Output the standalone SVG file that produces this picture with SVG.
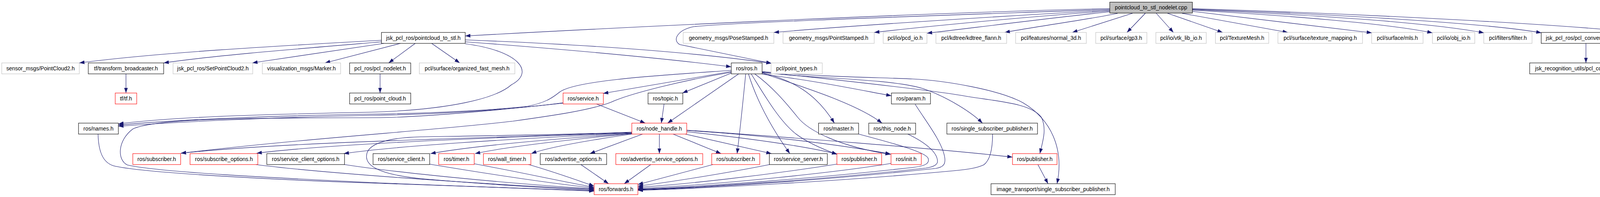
<svg xmlns="http://www.w3.org/2000/svg" width="4403" height="504" viewBox="0 0 4403 504">
<style>
.e{fill:none;stroke:#191970;stroke-width:1.1;marker-end:url(#ah)}
.nb rect{fill:#fff;stroke:#000;stroke-width:1.1}
.ng rect{fill:#fff;stroke:#bfbfbf;stroke-width:1.1}
.nr rect{fill:#fff;stroke:#ff0000;stroke-width:1.1}
.root rect{fill:#bfbfbf;stroke:#000;stroke-width:1.1}
text{font-family:"Liberation Sans",Arial,sans-serif;font-size:14px;text-anchor:middle;fill:#000}
</style>
<defs>
<marker id="ah" viewBox="0 0 13.3 9.4" refX="13.3" refY="4.7" markerWidth="13.3" markerHeight="9.4" markerUnits="userSpaceOnUse" orient="auto"><path d="M0,0 L13.3,4.7 L0,9.4 z" fill="#191970"/></marker>
</defs>
<rect width="4403" height="504" fill="#fff"/>
<g id="connectors">
<path class="e" d="M2841,22 C2300,34 1500,75 1191,92"/>
<path class="e" d="M2841,24 C2400,40 1900,56 1777,68 C1735,76 1720,102 1740,114 L1975,162"/>
<path class="e" d="M2841,26 C2500,45 2150,68 1981,83"/>
<path class="e" d="M2841,28 C2600,45 2350,70 2238,83"/>
<path class="e" d="M2841,30 C2700,45 2500,70 2373,85"/>
<path class="e" d="M2861,34 C2800,48 2650,68 2572,83"/>
<path class="e" d="M2899,34 L2745,83"/>
<path class="e" d="M2932,34 L2885,83"/>
<path class="e" d="M2960,34 L3004,83"/>
<path class="e" d="M2989,34 L3130,83"/>
<path class="e" d="M3026,34 L3297,83"/>
<path class="e" d="M3052,29 L3512,84"/>
<path class="e" d="M3052,26 C3300,40 3550,60 3667,84"/>
<path class="e" d="M3052,24.5 C3350,38 3650,56 3799,84"/>
<path class="e" d="M3052,23.5 C3400,36 3800,58 3946,84"/>
<path class="e" d="M3052,22 C3500,36 4000,62 4198,84"/>
<path class="e" d="M976.5,103 C700,118 400,135 203,161"/>
<path class="e" d="M976.5,107 C750,126 550,142 419,161"/>
<path class="e" d="M983,111 C850,130 750,145 646,161"/>
<path class="e" d="M1025,111 L832,161"/>
<path class="e" d="M1063,111 L995,161"/>
<path class="e" d="M1105,111 L1177,161"/>
<path class="e" d="M1191,107 C1500,130 1750,155 1872,171"/>
<path class="e" d="M1191,102 C1450,112 1750,130 1975,162"/>
<path class="e" d="M1191,112 C1330,130 1370,185 1309,217 C1270,252 1150,281 950,287 C700,292 450,298 303,317"/>
<path class="e" d="M973,189 L973,238"/>
<path class="e" d="M322.5,189 L322.5,238"/>
<path class="e" d="M4060,111 L4060,161"/>
<path class="e" d="M1872,183 L1544,239"/>
<path class="e" d="M1872,187 L1747,238"/>
<path class="e" d="M1891,189 L1709,315"/>
<path class="e" d="M1909,189 C1902,260 1895,330 1887,393"/>
<path class="e" d="M1916,189 C1935,250 1970,320 2022,393"/>
<path class="e" d="M1923,189 C1955,240 1995,310 2038,343 C2070,367 2110,383 2143,395"/>
<path class="e" d="M1932,189 C1975,220 2010,260 2042,300 C2070,335 2150,375 2280,395"/>
<path class="e" d="M1951,186 C2030,205 2090,240 2136,315"/>
<path class="e" d="M1951,187 C2080,230 2200,270 2258,315"/>
<path class="e" d="M1951,190 C2080,205 2200,230 2282,245"/>
<path class="e" d="M1951,185 C2050,200 2280,200 2364,227 C2430,250 2490,290 2515,315"/>
<path class="e" d="M1951,184 C2150,205 2400,232 2478,247 C2560,260 2640,265 2666,300 C2680,330 2670,360 2662,393"/>
<path class="e" d="M1951,183 C2100,197 2250,198 2336,202 C2420,206 2560,230 2619,263 C2690,305 2725,380 2706,470"/>
<path class="e" d="M1872,185 C1750,205 1610,240 1563,262 C1510,282 1420,295 1313,310 C1100,335 800,352 463,392"/>
<path class="e" d="M1872,180 C1700,192 1470,205 1432,236 C1412,252 1395,263 1350,272 C1200,288 1000,291 950,292 C700,296 450,306 303,320"/>
<path class="e" d="M1617,339 C1200,355 750,362 463,392"/>
<path class="e" d="M1617,340 C1250,352 850,368 657,392"/>
<path class="e" d="M1617,341 C1300,355 1000,375 880,393"/>
<path class="e" d="M1617,342 C1400,356 1200,375 1102,393"/>
<path class="e" d="M1617,342 C1450,358 1300,375 1216,393"/>
<path class="e" d="M1617,343 C1500,360 1400,378 1360,393"/>
<path class="e" d="M1645,343 L1510,393"/>
<path class="e" d="M1688,343 L1688,393"/>
<path class="e" d="M1723,343 L1846,393"/>
<path class="e" d="M1754,343 L1975,393"/>
<path class="e" d="M1758,337 C1900,352 2050,372 2143,394"/>
<path class="e" d="M1758,334 C1950,345 2150,370 2280,394"/>
<path class="e" d="M1758,333 C2000,350 2400,380 2592,402"/>
<path class="e" d="M1617,338 C1450,345 1200,348 1077,350 C1000,352 950,365 940,390 C930,420 960,445 1077,457 C1250,472 1420,482 1521,486"/>
<path class="e" d="M1527,266 L1652,315"/>
<path class="e" d="M1700,266 L1693,315"/>
<path class="e" d="M1441,263 C1300,282 1100,293 950,295 C700,300 450,312 303,323"/>
<path class="e" d="M1441,264 C1200,290 1050,300 972,301 C700,302 400,300 340,330 C300,360 300,410 326,422 C400,440 700,455 972,468 C1200,478 1400,485 1521,489"/>
<path class="e" d="M251,343 C252,385 262,415 290,424 C360,442 700,460 972,469 C1200,477 1400,484 1521,488"/>
<path class="e" d="M655,421 C800,440 1200,470 1521,484"/>
<path class="e" d="M876,420 C1000,440 1300,470 1521,483"/>
<path class="e" d="M1100,420 C1250,445 1400,468 1521,481"/>
<path class="e" d="M1214,419 C1330,440 1440,465 1521,479"/>
<path class="e" d="M1350,420 C1420,440 1480,462 1521,476"/>
<path class="e" d="M1487,421 L1558,470"/>
<path class="e" d="M1666,421 L1598,470"/>
<path class="e" d="M1825,421 L1633,472"/>
<path class="e" d="M1970,421 C1850,445 1700,468 1633,476"/>
<path class="e" d="M2142,420 C1950,450 1750,472 1633,479"/>
<path class="e" d="M2281,418 C2150,440 1850,472 1633,482"/>
<path class="e" d="M2198,343 C2300,370 2370,390 2376,405 C2380,418 2370,424 2340,428 C2100,455 1800,478 1633,484"/>
<path class="e" d="M2324,343 C2370,365 2400,390 2400,413 C2400,422 2390,427 2370,430 C2100,460 1800,480 1633,485"/>
<path class="e" d="M2343,267 C2370,310 2410,360 2418,400 C2422,420 2415,428 2395,431 C2100,462 1800,481 1633,486"/>
<path class="e" d="M2541,343 C2541,380 2535,410 2518,422 C2500,430 2480,433 2440,437 C2150,464 1800,482 1633,487"/>
<path class="e" d="M2657,421 L2683,470"/>
</g>
<g id="n_root" class="root"><rect x="2841" y="5.5" width="211.5" height="28"/><text x="2946.75" y="24">pointcloud_to_stl_nodelet.cpp</text></g>
<g id="n_p2s" class="nb"><rect x="976.5" y="83" width="214.5" height="28"/><text x="1083.75" y="101.5">jsk_pcl_ros/pointcloud_to_stl.h</text></g>
<g id="n_pose" class="ng"><rect x="1749" y="83" width="232" height="28"/><text x="1865" y="101.5">geometry_msgs/PoseStamped.h</text></g>
<g id="n_point" class="ng"><rect x="2004.5" y="83" width="233.5" height="28"/><text x="2121.25" y="101.5">geometry_msgs/PointStamped.h</text></g>
<g id="n_pcdio" class="ng"><rect x="2261" y="83" width="112" height="28"/><text x="2317" y="101.5">pcl/io/pcd_io.h</text></g>
<g id="n_kdtree" class="ng"><rect x="2396" y="83" width="181" height="28"/><text x="2486.5" y="101.5">pcl/kdtree/kdtree_flann.h</text></g>
<g id="n_normal" class="ng"><rect x="2600" y="83" width="181" height="28"/><text x="2690.5" y="101.5">pcl/features/normal_3d.h</text></g>
<g id="n_gp3" class="ng"><rect x="2805" y="83" width="131" height="28"/><text x="2870.5" y="101.5">pcl/surface/gp3.h</text></g>
<g id="n_vtk" class="ng"><rect x="2959" y="83" width="129" height="28"/><text x="3023.5" y="101.5">pcl/io/vtk_lib_io.h</text></g>
<g id="n_texmesh" class="ng"><rect x="3111.5" y="83" width="136.5" height="28"/><text x="3179.75" y="101.5">pcl/TextureMesh.h</text></g>
<g id="n_texmap" class="ng"><rect x="3271.5" y="83" width="216.5" height="28"/><text x="3379.75" y="101.5">pcl/surface/texture_mapping.h</text></g>
<g id="n_mls" class="ng"><rect x="3511.5" y="83" width="131.5" height="28"/><text x="3577.25" y="101.5">pcl/surface/mls.h</text></g>
<g id="n_obj" class="ng"><rect x="3667" y="83" width="108.5" height="28"/><text x="3721.25" y="101.5">pcl/io/obj_io.h</text></g>
<g id="n_filter" class="ng"><rect x="3798.5" y="83" width="123.5" height="28"/><text x="3860.25" y="101.5">pcl/filters/filter.h</text></g>
<g id="n_pclconv" class="nb"><rect x="3945.5" y="83" width="228" height="28"/><text x="4059.5" y="101.5">jsk_pcl_ros/pcl_conversion_util.h</text></g>
<g id="n_plugin" class="nb"><rect x="4198" y="83" width="200" height="28"/><text x="4298" y="101.5">pluginlib/class_list_macros.h</text></g>
<g id="n_sensor" class="ng"><rect x="4.5" y="161" width="198.5" height="28"/><text x="103.75" y="179.5">sensor_msgs/PointCloud2.h</text></g>
<g id="n_tfbc" class="nb"><rect x="226" y="161" width="193" height="28"/><text x="322.5" y="179.5">tf/transform_broadcaster.h</text></g>
<g id="n_setpc2" class="ng"><rect x="443" y="161" width="204" height="28"/><text x="545" y="179.5">jsk_pcl_ros/SetPointCloud2.h</text></g>
<g id="n_marker" class="ng"><rect x="671.5" y="161" width="200.5" height="28"/><text x="771.75" y="179.5">visualization_msgs/Marker.h</text></g>
<g id="n_pclnodelet" class="nb"><rect x="895" y="161" width="156.5" height="28"/><text x="973.25" y="179.5">pcl_ros/pcl_nodelet.h</text></g>
<g id="n_ofm" class="ng"><rect x="1073.5" y="161" width="244.5" height="28"/><text x="1195.75" y="179.5">pcl/surface/organized_fast_mesh.h</text></g>
<g id="n_ros" class="nb"><rect x="1872" y="161" width="79" height="28"/><text x="1911.5" y="179.5">ros/ros.h</text></g>
<g id="n_pt" class="ng"><rect x="1974" y="161" width="131" height="28"/><text x="2039.5" y="179.5">pcl/point_types.h</text></g>
<g id="n_jru" class="nb"><rect x="3916" y="161" width="288" height="28"/><text x="4060" y="179.5">jsk_recognition_utils/pcl_conversion_util.h</text></g>
<g id="n_tf" class="nr"><rect x="295" y="238" width="55" height="28"/><text x="322.5" y="256.5">tf/tf.h</text></g>
<g id="n_pc" class="nb"><rect x="895" y="238" width="156.5" height="28"/><text x="973.25" y="256.5">pcl_ros/point_cloud.h</text></g>
<g id="n_service" class="nr"><rect x="1441.5" y="238" width="103" height="28"/><text x="1493" y="256.5">ros/service.h</text></g>
<g id="n_topic" class="nb"><rect x="1659" y="238" width="89" height="28"/><text x="1703.5" y="256.5">ros/topic.h</text></g>
<g id="n_param" class="nb"><rect x="2282" y="238" width="100" height="28"/><text x="2332" y="256.5">ros/param.h</text></g>
<g id="n_names" class="nb"><rect x="201" y="315" width="102" height="28"/><text x="252" y="333.5">ros/names.h</text></g>
<g id="n_nh" class="nr"><rect x="1617.5" y="315" width="140.5" height="28"/><text x="1687.75" y="333.5">ros/node_handle.h</text></g>
<g id="n_master" class="nb"><rect x="2095.5" y="315" width="102.5" height="28"/><text x="2146.75" y="333.5">ros/master.h</text></g>
<g id="n_thisnode" class="nb"><rect x="2224" y="315" width="120" height="28"/><text x="2284" y="333.5">ros/this_node.h</text></g>
<g id="n_ssp" class="nb"><rect x="2424" y="315" width="232" height="28"/><text x="2540" y="333.5">ros/single_subscriber_publisher.h</text></g>
<g id="n_sub1" class="nr"><rect x="340" y="393" width="122.5" height="28"/><text x="401.25" y="411.5">ros/subscriber.h</text></g>
<g id="n_subopt" class="nr"><rect x="486.5" y="393" width="173.5" height="28"/><text x="573.25" y="411.5">ros/subscribe_options.h</text></g>
<g id="n_sco" class="nb"><rect x="683" y="393" width="199" height="28"/><text x="782.5" y="411.5">ros/service_client_options.h</text></g>
<g id="n_sc" class="nb"><rect x="955" y="393" width="145" height="28"/><text x="1027.5" y="411.5">ros/service_client.h</text></g>
<g id="n_timer" class="nr"><rect x="1123" y="393" width="91" height="28"/><text x="1168.5" y="411.5">ros/timer.h</text></g>
<g id="n_wtimer" class="nr"><rect x="1237.5" y="393" width="121.5" height="28"/><text x="1298.25" y="411.5">ros/wall_timer.h</text></g>
<g id="n_advopt" class="nb"><rect x="1383" y="393" width="170" height="28"/><text x="1468" y="411.5">ros/advertise_options.h</text></g>
<g id="n_advsopt" class="nr"><rect x="1576.5" y="393" width="222.5" height="28"/><text x="1687.75" y="411.5">ros/advertise_service_options.h</text></g>
<g id="n_sub2" class="nr"><rect x="1822" y="393" width="123" height="28"/><text x="1883.5" y="411.5">ros/subscriber.h</text></g>
<g id="n_ss" class="nb"><rect x="1969.5" y="393" width="148.5" height="28"/><text x="2043.75" y="411.5">ros/service_server.h</text></g>
<g id="n_pub1" class="nr"><rect x="2142.5" y="393" width="114.5" height="28"/><text x="2199.75" y="411.5">ros/publisher.h</text></g>
<g id="n_init" class="nr"><rect x="2281" y="393" width="77.5" height="28"/><text x="2319.75" y="411.5">ros/init.h</text></g>
<g id="n_pub2" class="nr"><rect x="2592" y="393" width="114" height="28"/><text x="2649" y="411.5">ros/publisher.h</text></g>
<g id="n_fwd" class="nr"><rect x="1521" y="470" width="112" height="28"/><text x="1577" y="488.5">ros/forwards.h</text></g>
<g id="n_it" class="nb"><rect x="2537" y="470" width="318" height="28"/><text x="2696" y="488.5">image_transport/single_subscriber_publisher.h</text></g>
</svg>
